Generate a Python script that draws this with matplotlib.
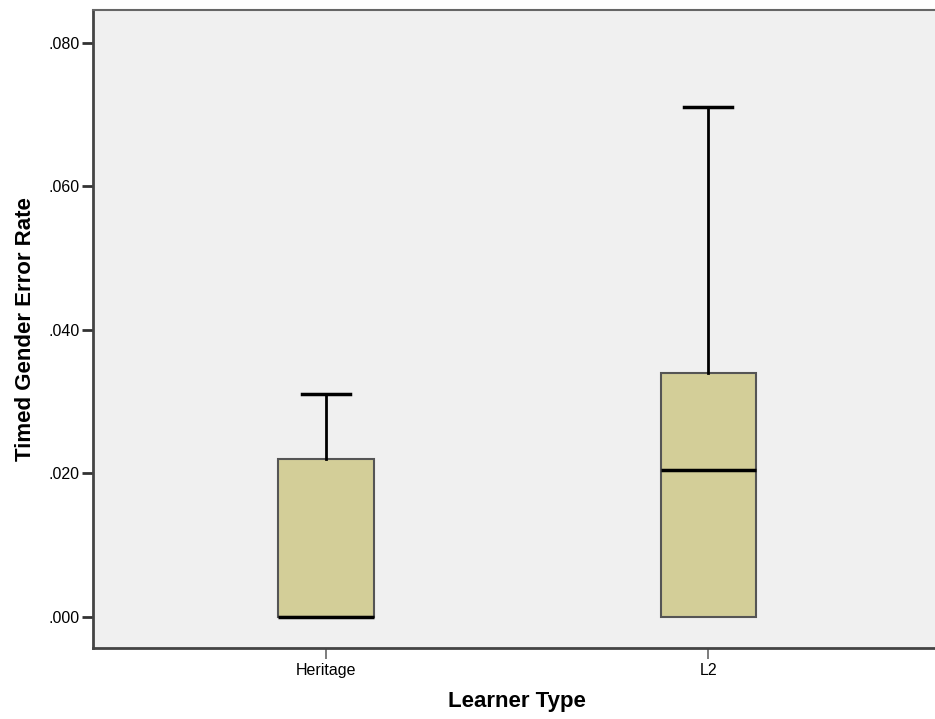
import matplotlib
matplotlib.use("Agg")
import matplotlib.pyplot as plt
from matplotlib.ticker import FuncFormatter

plt.rcParams['font.family'] = ['Liberation Sans', 'DejaVu Sans']

# boxplot summaries
groups = ['Heritage', 'L2']
whis_lo = [0.0, 0.0]
q1 = [0.0, 0.0]
median = [0.0, 0.0205]
q3 = [0.022, 0.034]
whis_hi = [0.031, 0.071]
yticks = [0.0, 0.02, 0.04, 0.06, 0.08]

stats = []
for g, lo, a, m, b, hi in zip(groups, whis_lo, q1, median, q3, whis_hi):
    stats.append(dict(label=g, whislo=lo, q1=a, med=m, q3=b, whishi=hi, fliers=[]))

fig = plt.figure(figsize=(9.35, 7.19), dpi=100)
ax = fig.add_axes([93/935, 1 - 648/719, 1 - 93/935, 638/719])
ax.set_facecolor('#f0f0f0')

pos = [1, 2]
res = ax.bxp(stats, positions=pos, widths=0.249, capwidths=0.126,
             patch_artist=True, showfliers=False,
             boxprops=dict(facecolor='#d3ce98', edgecolor='#555555', linewidth=1.5),
             whiskerprops=dict(color='black', linewidth=2),
             capprops=dict(color='black', linewidth=2.5),
             medianprops=dict(color='black', linewidth=2.5))
# lower caps sit at zero, under the box edge
for c in res['caps'][0::2]:
    c.set_color('#aaaaaa')
    c.set_linewidth(1.2)
    c.set_zorder(1)

ax.set_xlim(0.39, 2.594)
ax.set_ylim(-0.00436, 0.08456)
ax.set_yticks(yticks)
ax.yaxis.set_major_formatter(FuncFormatter(lambda v, p: f"{v:.3f}".lstrip('0') if v >= 0 else f"{v:.3f}"))
ax.set_xticks(pos)
ax.set_xticklabels(groups)

for s in ['left', 'bottom', 'top']:
    ax.spines[s].set_color('#444444')
    ax.spines[s].set_linewidth(2)
ax.spines['top'].set_linewidth(1.5)
ax.spines['top'].set_color('#666666')
ax.spines['right'].set_visible(False)

ax.tick_params(axis='y', length=8, width=2, color='#333333', labelsize=11.5, pad=1.5)
ax.tick_params(axis='x', length=8, width=1.2, color='#666666', labelsize=11.5, pad=3)

ax.set_ylabel('Timed Gender Error Rate', fontsize=16, fontweight='bold')
ax.set_xlabel('Learner Type', fontsize=16, fontweight='bold')
ax.yaxis.set_label_coords(-0.068, 0.5)
ax.xaxis.set_label_coords(0.5036, -0.068)

fig.savefig('out.png', dpi=100)
